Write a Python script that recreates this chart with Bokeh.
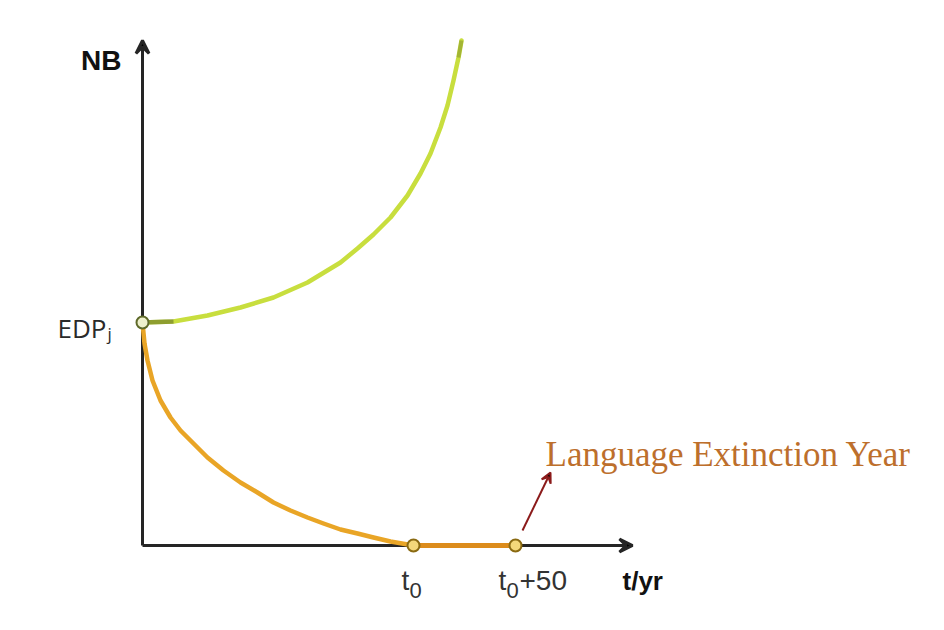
from bokeh.plotting import figure
from bokeh.models import Range1d, Arrow, VeeHead, Label
from bokeh.embed import file_html
from bokeh.resources import INLINE

# ---- data (schematic units, origin at axis crossing) ----
edp_value = 223
t0 = 271
t0_plus_50 = 373

growth_t = [0, 31, 65, 98, 131, 165, 198, 215, 231, 248, 265, 278, 288, 298, 305, 311, 316, 319]
growth_nb = [223, 224, 230, 238, 248, 263, 283, 297, 311, 328, 350, 372, 392, 418, 440, 465, 488, 505]

decline_t = [0, 2, 5, 10, 18, 28, 38, 51, 65, 81, 98, 115, 131, 148, 165, 181, 198, 215, 231, 248, 271]
decline_nb = [223, 202, 185, 165, 145, 128, 115, 102, 88, 75, 63, 53, 43, 35, 28, 22, 16, 12, 8, 4, 0]

extinct_t = [t0, t0_plus_50]
extinct_nb = [0, 0]

axis_y_top = 505
axis_x_end = 490

annotation_text = "Language Extinction Year"
arrow_from = (380, 15)
arrow_to = (408, 73)

p = figure(width=944, height=630, output_backend="svg", toolbar_location=None,
           x_range=Range1d(-142, 802), y_range=Range1d(-85, 545),
           min_border=0, outline_line_color=None, background_fill_color="white",
           border_fill_color="white")
p.xaxis.visible = False
p.yaxis.visible = False
p.grid.visible = False

axis_color = "#252525"
# axes with arrowheads (drawn beneath the curves)
p.add_layout(Arrow(end=VeeHead(size=13, line_color=axis_color, line_width=3),
                   x_start=0, y_start=0, x_end=0, y_end=axis_y_top,
                   line_color=axis_color, line_width=3, level="underlay"))
p.add_layout(Arrow(end=VeeHead(size=13, line_color=axis_color, line_width=3),
                   x_start=0, y_start=0, x_end=axis_x_end, y_end=0,
                   line_color=axis_color, line_width=3, level="underlay"))

# curves
p.line(growth_t, growth_nb, line_color="#c8de3e", line_width=4.5, line_cap="round", line_join="round")
p.line(growth_t[:2], growth_nb[:2], line_color="#5f6a22", line_width=4.5, line_alpha=0.55)
p.line(growth_t[-2:], growth_nb[-2:], line_color="#5f6a22", line_width=4, line_alpha=0.35)
p.line(decline_t, decline_nb, line_color="#e9a526", line_width=4.5, line_cap="round", line_join="round")
p.line(extinct_t, extinct_nb, line_color="#dc8c1c", line_width=5)

# points
p.scatter([0], [edp_value], size=12, fill_color="#eef0cc", line_color="#5f6a2a", line_width=2)
p.scatter(extinct_t, extinct_nb, size=12, fill_color="#f4d87a", line_color="#8a6a12", line_width=2)

# red annotation arrow
p.add_layout(Arrow(end=VeeHead(size=10, line_color="#8b1a1a", line_width=2),
                   x_start=arrow_from[0], y_start=arrow_from[1],
                   x_end=arrow_to[0], y_end=arrow_to[1],
                   line_color="#8b1a1a", line_width=2))

def lab(x, y, text, size, font="Liberation Sans", style="normal", color="#333333", align="left"):
    p.add_layout(Label(x=x, y=y, text=text, text_font=font, text_font_size=f"{size}px",
                       text_font_style=style, text_color=color, text_align=align,
                       text_baseline="alphabetic"))

lab(-21, 485, "NB", 28, style="bold", color="#111111", align="right")
lab(-85, 218, "EDP", 26, font="Open Sans", color="#2a2a2a")
lab(-35, 212, "j", 17, font="Open Sans", color="#2a2a2a")
lab(259, -35, "t", 28)
lab(267, -45, "0", 22)
lab(356, -35, "t", 28)
lab(364, -45, "0", 22)
lab(377, -35, "+50", 28)
lab(480, -35, "t/yr", 26, style="bold", color="#111111")
lab(403, 91, annotation_text, 35, font="Liberation Serif", color="#bd6f2c")

open("out.html", "w").write(file_html(p, INLINE))
